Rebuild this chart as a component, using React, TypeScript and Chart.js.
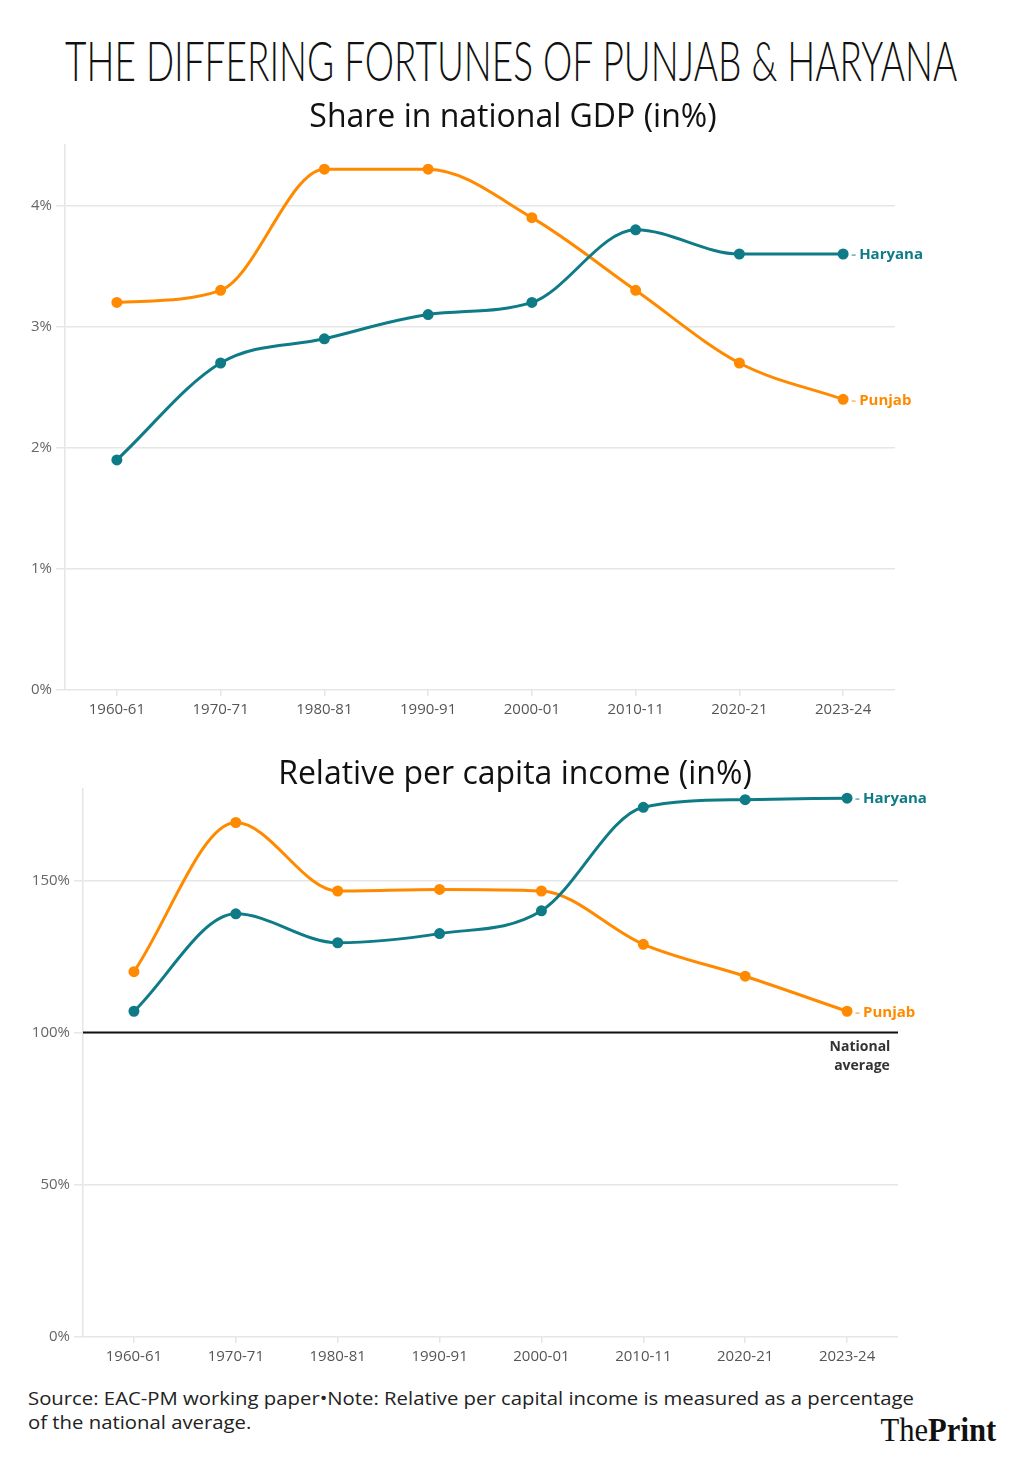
import React, { useEffect, useRef } from "react";
import { Chart, registerables } from "chart.js";
Chart.register(...registerables);

const categories = ["1960-61", "1970-71", "1980-81", "1990-91", "2000-01", "2010-11", "2020-21", "2023-24"];
const gdpPunjab = [3.2, 3.3, 4.3, 4.3, 3.9, 3.3, 2.7, 2.4];
const gdpHaryana = [1.9, 2.7, 2.9, 3.1, 3.2, 3.8, 3.6, 3.6];
const pciPunjab = [120, 169, 146.5, 147, 146.5, 129, 118.5, 107];
const pciHaryana = [107, 139, 129.5, 132.5, 140, 174, 176.5, 177];
const gdpTicks = [0, 1, 2, 3, 4];
const pciTicks = [0, 50, 100, 150];
const nationalAverage = 100;

const PUNJAB = "#ff8a00";
const HARYANA = "#0e7b87";
const GRID = "#e6e6e6";
const TICK_FONT = "'Open Sans', 'Noto Sans', sans-serif";

const endLabels = {
  id: "endLabels",
  afterDatasetsDraw(chart: any) {
    const ctx = chart.ctx;
    ctx.save();
    chart.data.datasets.forEach((ds: any, i: number) => {
      const meta = chart.getDatasetMeta(i);
      const pt = meta.data[meta.data.length - 1];
      if (!pt) return;
      ctx.font = "bold 15px 'Open Sans', sans-serif";
      ctx.textBaseline = "middle";
      ctx.textAlign = "left";
      ctx.globalAlpha = 0.55;
      ctx.fillStyle = ds.borderColor;
      ctx.fillText("-", pt.x + 8, pt.y + 1);
      ctx.globalAlpha = 1;
      ctx.fillText(ds.label, pt.x + 16, pt.y + 1);
    });
    ctx.restore();
  },
};

const refLine = {
  id: "refLine",
  beforeDatasetsDraw(chart: any, _args: any, opts: any) {
    if (opts.value == null) return;
    const { ctx, chartArea } = chart;
    const y = chart.scales.y.getPixelForValue(opts.value);
    ctx.save();
    ctx.strokeStyle = "#111";
    ctx.lineWidth = 2;
    ctx.beginPath();
    ctx.moveTo(chartArea.left, y);
    ctx.lineTo(chartArea.right, y);
    ctx.stroke();
    ctx.font = "bold 14px 'Open Sans', sans-serif";
    ctx.fillStyle = "#333";
    ctx.textAlign = "center";
    ctx.textBaseline = "middle";
    ctx.fillText("National", chartArea.right - 38, y + 14);
    ctx.fillText("average", chartArea.right - 36, y + 33);
    ctx.restore();
  },
};

function makeChart(
  canvas: HTMLCanvasElement,
  punjab: number[],
  haryana: number[],
  ticks: number[],
  max: number,
  leftWidth: number,
  padRight: number,
  padTop: number,
  ref: number | null
) {
  return new Chart(canvas, {
    type: "line",
    data: {
      labels: categories,
      datasets: [
        {
          label: "Haryana",
          data: haryana,
          borderColor: HARYANA,
          backgroundColor: HARYANA,
          pointBackgroundColor: HARYANA,
          pointBorderColor: HARYANA,
          borderWidth: 3,
          pointRadius: 4,
          cubicInterpolationMode: "monotone",
        },
        {
          label: "Punjab",
          data: punjab,
          borderColor: PUNJAB,
          backgroundColor: PUNJAB,
          pointBackgroundColor: PUNJAB,
          pointBorderColor: PUNJAB,
          borderWidth: 3,
          pointRadius: 4,
          cubicInterpolationMode: "monotone",
        },
      ],
    },
    options: {
      animation: false,
      responsive: false,
      maintainAspectRatio: false,
      layout: { padding: { left: 0, right: padRight, top: padTop, bottom: 0 } },
      plugins: {
        legend: { display: false },
        tooltip: { enabled: false },
        title: { display: false },
        refLine: { value: ref },
      } as any,
      scales: {
        x: {
          type: "category",
          offset: true,
          grid: { drawOnChartArea: false, drawTicks: true, tickLength: 6, color: GRID, lineWidth: 1.5 },
          border: { display: false },
          ticks: { color: "#555", font: { family: TICK_FONT, size: 15 }, padding: 5, maxRotation: 0, autoSkip: false },
          afterFit: (s: any) => {
            s.height = 40;
            s.paddingLeft = 0;
            s.paddingRight = 0;
          },
        },
        y: {
          min: 0,
          max,
          afterBuildTicks: (s: any) => {
            s.ticks = ticks.map((v) => ({ value: v }));
          },
          grid: { color: GRID, lineWidth: 1.5, tickLength: 9, drawTicks: true },
          border: { color: GRID, width: 1.5 },
          ticks: {
            color: "#666",
            font: { family: TICK_FONT, size: 15 },
            padding: 4,
            callback: (v: any) => v + "%",
          },
          afterFit: (s: any) => {
            s.width = leftWidth;
            s.paddingTop = 0;
            s.paddingBottom = 0;
          },
        },
      },
    },
    plugins: [endLabels, refLine],
  } as any);
}

// Stretches/condenses a block horizontally so that its first child reaches a target width.
function FitBlock({
  children,
  width,
  origin,
  style,
}: {
  children: React.ReactNode;
  width: number;
  origin: string;
  style: React.CSSProperties;
}) {
  const ref = useRef<HTMLDivElement>(null);
  useEffect(() => {
    const apply = () => {
      const el = ref.current;
      if (!el) return;
      const first = el.firstElementChild as HTMLElement | null;
      const w = first ? first.offsetWidth : el.offsetWidth;
      if (w > 0) el.style.transform = `scaleX(${width / w})`;
    };
    apply();
    (document as any).fonts?.ready?.then(apply);
  }, [width]);
  return (
    <div ref={ref} style={{ display: "inline-block", whiteSpace: "nowrap", transformOrigin: origin, ...style }}>
      {children}
    </div>
  );
}

export default function App() {
  const c1 = useRef<HTMLCanvasElement>(null);
  const c2 = useRef<HTMLCanvasElement>(null);
  useEffect(() => {
    const ch1 = makeChart(c1.current!, gdpPunjab, gdpHaryana, gdpTicks, 4.5, 65, 127, 15, null);
    const ch2 = makeChart(c2.current!, pciPunjab, pciHaryana, pciTicks, 180, 83, 124, 19, nationalAverage);
    return () => {
      ch1.destroy();
      ch2.destroy();
    };
  }, []);

  return (
    <div style={{ position: "absolute", left: 0, top: 0, width: 1022, height: 1461, background: "#fff", overflow: "hidden" }}>
      <canvas ref={c1} width={1022} height={600} style={{ position: "absolute", left: 0, top: 130, width: 1022, height: 600 }} />
      <canvas ref={c2} width={1022} height={607} style={{ position: "absolute", left: 0, top: 770, width: 1022, height: 607 }} />
      <div
        style={{
          position: "absolute",
          left: 0,
          width: 1022,
          top: 28,
          display: "flex",
          justifyContent: "center",
          lineHeight: "64px",
        }}
      >
        <FitBlock width={892} origin="center" style={{ fontFamily: "Lato, 'Open Sans', sans-serif", fontWeight: 300, fontSize: 56, color: "#111" }}>
          <span>THE DIFFERING FORTUNES OF PUNJAB &amp; HARYANA</span>
        </FitBlock>
      </div>
      <div
        style={{
          position: "absolute",
          left: 0,
          width: 1026,
          top: 94,
          textAlign: "center",
          fontFamily: "'Open Sans', sans-serif",
          fontWeight: 400,
          fontSize: 32,
          lineHeight: "42px",
          color: "#111",
        }}
      >
        Share in national GDP (in%)
      </div>
      <div
        style={{
          position: "absolute",
          left: 0,
          width: 1030,
          top: 751,
          textAlign: "center",
          fontFamily: "'Open Sans', sans-serif",
          fontWeight: 400,
          fontSize: 32,
          lineHeight: "42px",
          color: "#111",
        }}
      >
        Relative per capita income (in%)
      </div>
      <div style={{ position: "absolute", left: 28, top: 1386 }}>
        <FitBlock width={886} origin="left" style={{ fontFamily: "'Open Sans', sans-serif", fontSize: 19, lineHeight: "24px", color: "#222" }}>
          <span>Source: EAC-PM working paper•Note: Relative per capital income is measured as a percentage</span>
          <br />
          <span>of the national average.</span>
        </FitBlock>
      </div>
      <div style={{ position: "absolute", left: 878, width: 120, top: 1412, display: "flex", justifyContent: "center", lineHeight: "36px" }}>
        <FitBlock width={116} origin="center" style={{ fontFamily: "'Liberation Serif', serif", fontSize: 33, color: "#111" }}>
          <span>
            <span style={{ fontWeight: 400 }}>The</span>
            <span style={{ fontWeight: 700 }}>Print</span>
          </span>
        </FitBlock>
      </div>
    </div>
  );
}
